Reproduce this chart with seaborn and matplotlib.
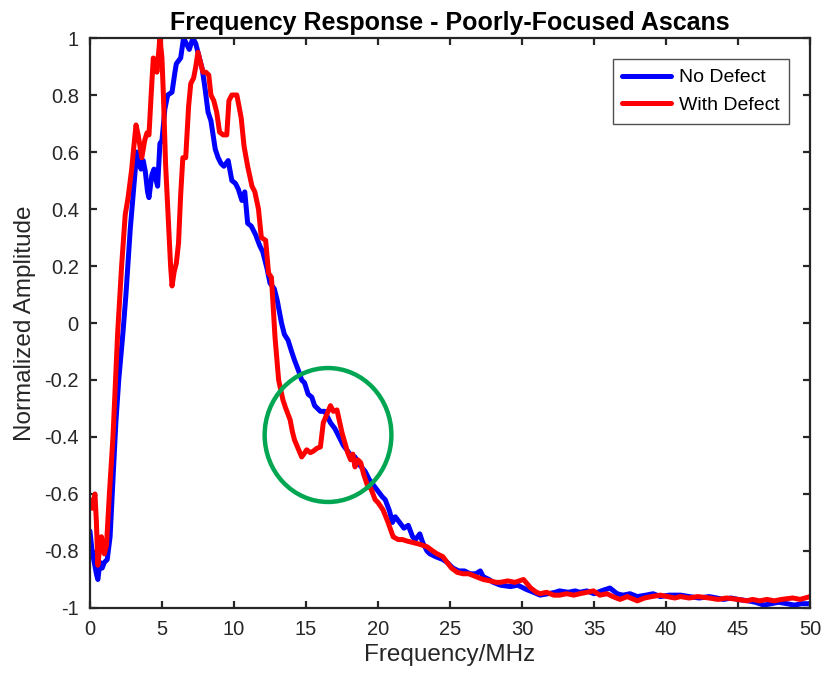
import numpy as np
import pandas as pd
import seaborn as sns
import matplotlib
matplotlib.use("Agg")
import matplotlib.pyplot as plt
from matplotlib.patches import Ellipse

# Normalized spectra of the two A-scans
freq_no_defect = [
    0.0, 0.15, 0.3, 0.45, 0.55, 0.7, 0.85, 1.0, 1.2, 1.4, 1.6, 1.8, 2.0, 2.3, 2.5, 2.8,
    3.0, 3.25, 3.4, 3.55, 3.7, 3.85, 4.0, 4.1, 4.3, 4.45, 4.6, 4.7, 4.86, 5.0, 5.2, 5.4,
    5.7, 5.9, 6.0, 6.3, 6.5, 6.7, 6.9, 7.15, 7.35, 7.6, 7.8, 8.0, 8.2, 8.4, 8.7, 8.9,
    9.1, 9.3, 9.6, 9.85, 10.1, 10.3, 10.55, 10.75, 10.95, 11.2, 11.5, 11.8, 12.0, 12.3,
    12.5, 12.8, 13.0, 13.3, 13.5, 13.75, 14.0, 14.2, 14.5, 14.7, 14.9, 15.15, 15.4, 15.6,
    15.8, 16.0, 16.3, 16.7, 17.0, 17.2, 17.6, 18.05, 18.4, 18.75, 19.1, 19.4, 19.7, 20.0,
    20.3, 20.5, 20.8, 21.0, 21.2, 21.5, 21.8, 22.1, 22.4, 22.6, 22.9, 23.1, 23.4, 23.6,
    24.0, 24.5, 24.8, 25.2, 25.6, 26.0, 26.4, 26.8, 27.1, 27.3, 27.7, 28.0, 28.5, 29.2,
    29.7, 30.3, 30.8, 31.25, 31.8, 32.3, 32.6, 33.2, 33.7, 34.0, 34.5, 35.0, 35.5, 36.1,
    36.6, 37.0, 37.5, 38.0, 38.6, 39.1, 39.6, 40.2, 41.0, 41.6, 42.3, 43.0, 43.5, 44.0,
    44.5, 45.0, 45.7, 46.2, 46.8, 47.3, 47.8, 48.4, 48.9, 49.4, 50.0,
]
amp_no_defect = [
    -0.73, -0.80, -0.84, -0.88, -0.90, -0.84, -0.86, -0.84, -0.83, -0.75, -0.55, -0.35,
    -0.20, -0.03, 0.10, 0.33, 0.45, 0.60, 0.56, 0.54, 0.57, 0.53, 0.46, 0.44, 0.52, 0.54,
    0.50, 0.48, 0.63, 0.64, 0.75, 0.80, 0.81, 0.88, 0.91, 0.93, 1.0, 0.98, 0.96, 1.0,
    0.98, 0.93, 0.89, 0.82, 0.74, 0.71, 0.61, 0.58, 0.56, 0.55, 0.57, 0.50, 0.49, 0.47,
    0.43, 0.46, 0.35, 0.34, 0.31, 0.27, 0.25, 0.19, 0.14, 0.12, 0.08, 0.0, -0.04, -0.06,
    -0.10, -0.13, -0.17, -0.20, -0.21, -0.25, -0.26, -0.29, -0.30, -0.31, -0.31, -0.35,
    -0.37, -0.39, -0.43, -0.46, -0.47, -0.50, -0.52, -0.55, -0.57, -0.59, -0.61, -0.62,
    -0.66, -0.70, -0.68, -0.70, -0.72, -0.71, -0.75, -0.76, -0.74, -0.77, -0.80, -0.81,
    -0.82, -0.83, -0.84, -0.86, -0.87, -0.87, -0.88, -0.88, -0.87, -0.89, -0.90, -0.91,
    -0.92, -0.925, -0.92, -0.935, -0.945, -0.955, -0.95, -0.945, -0.94, -0.945, -0.94,
    -0.945, -0.94, -0.95, -0.94, -0.93, -0.95, -0.955, -0.95, -0.96, -0.955, -0.95,
    -0.96, -0.955, -0.955, -0.96, -0.965, -0.96, -0.965, -0.97, -0.965, -0.97, -0.975,
    -0.98, -0.99, -0.985, -0.98, -0.985, -0.99, -0.985, -0.985,
]

freq_with_defect = [
    0.0, 0.15, 0.35, 0.45, 0.55, 0.7, 0.8, 0.9, 1.0, 1.15, 1.35, 1.6, 1.93, 2.2, 2.45,
    2.65, 2.9, 3.05, 3.2, 3.35, 3.6, 3.8, 3.96, 4.1, 4.25, 4.4, 4.55, 4.65, 4.86, 5.0,
    5.1, 5.25, 5.45, 5.6, 5.7, 5.85, 6.0, 6.15, 6.3, 6.45, 6.65, 6.85, 7.0, 7.2, 7.35,
    7.5, 7.7, 7.85, 8.05, 8.25, 8.4, 8.6, 8.8, 9.0, 9.25, 9.5, 9.65, 9.85, 10.2, 10.5,
    10.7, 10.95, 11.25, 11.45, 11.7, 11.9, 12.2, 12.4, 12.6, 12.85, 13.1, 13.4, 13.6,
    13.9, 14.05, 14.2, 14.45, 14.7, 14.85, 15.05, 15.3, 15.5, 15.75, 16.0, 16.2, 16.45,
    16.7, 16.9, 17.15, 17.5, 17.7, 17.9, 18.1, 18.25, 18.4, 18.6, 18.8, 19.0, 19.3, 19.5,
    19.8, 20.0, 20.35, 20.7, 21.05, 21.4, 21.7, 22.0, 22.4, 22.8, 23.1, 23.4, 23.8, 24.1,
    24.5, 24.8, 25.1, 25.5, 25.9, 26.3, 26.8, 27.3, 27.8, 28.2, 28.5, 29.0, 29.5, 30.1,
    30.6, 31.0, 31.25, 31.7, 32.2, 32.6, 33.1, 33.6, 34.0, 34.5, 34.95, 35.4, 35.9, 36.3,
    36.8, 37.3, 38.0, 38.5, 39.0, 39.6, 40.1, 40.6, 41.0, 41.6, 42.2, 43.0, 43.6, 44.2,
    45.0, 45.6, 46.0, 46.5, 47.0, 47.5, 48.0, 48.8, 49.3, 50.0,
]
amp_with_defect = [
    -0.62, -0.65, -0.60, -0.70, -0.85, -0.78, -0.75, -0.78, -0.81, -0.78, -0.60, -0.40,
    -0.03, 0.20, 0.38, 0.44, 0.54, 0.62, 0.695, 0.66, 0.58, 0.64, 0.667, 0.66, 0.80,
    0.93, 0.92, 0.88, 1.0, 0.93, 0.80, 0.56, 0.35, 0.20, 0.13, 0.18, 0.21, 0.28, 0.45,
    0.58, 0.58, 0.76, 0.84, 0.86, 0.90, 0.95, 0.91, 0.88, 0.88, 0.87, 0.80, 0.78, 0.74,
    0.67, 0.66, 0.66, 0.78, 0.80, 0.80, 0.72, 0.62, 0.55, 0.48, 0.46, 0.40, 0.30, 0.29,
    0.175, 0.16, -0.05, -0.20, -0.27, -0.30, -0.34, -0.38, -0.41, -0.44, -0.47, -0.46,
    -0.445, -0.455, -0.45, -0.44, -0.435, -0.35, -0.32, -0.29, -0.31, -0.305, -0.385,
    -0.42, -0.456, -0.48, -0.46, -0.505, -0.48, -0.49, -0.53, -0.575, -0.58, -0.62,
    -0.63, -0.656, -0.70, -0.75, -0.76, -0.76, -0.765, -0.77, -0.775, -0.78, -0.785,
    -0.80, -0.81, -0.82, -0.84, -0.86, -0.875, -0.88, -0.88, -0.89, -0.90, -0.905,
    -0.91, -0.91, -0.905, -0.91, -0.90, -0.93, -0.945, -0.95, -0.945, -0.955, -0.955,
    -0.95, -0.955, -0.95, -0.945, -0.94, -0.955, -0.95, -0.96, -0.97, -0.96, -0.975,
    -0.965, -0.96, -0.955, -0.96, -0.965, -0.96, -0.965, -0.96, -0.965, -0.97, -0.965,
    -0.97, -0.975, -0.97, -0.975, -0.97, -0.975, -0.97, -0.965, -0.97, -0.96,
]

series_names = ["No Defect", "With Defect"]
series_colors = ["#0000FF", "#FF0000"]
x_ticks = [0, 5, 10, 15, 20, 25, 30, 35, 40, 45, 50]
y_ticks = [-1, -0.8, -0.6, -0.4, -0.2, 0, 0.2, 0.4, 0.6, 0.8, 1]

# Region of interest marked on the plot (centre in MHz / amplitude, size in data units)
roi_center = (16.53, -0.393)
roi_size = (8.8, 0.47)

df = pd.concat([
    pd.DataFrame({"Frequency": freq_no_defect, "Amplitude": amp_no_defect, "Series": series_names[0]}),
    pd.DataFrame({"Frequency": freq_with_defect, "Amplitude": amp_with_defect, "Series": series_names[1]}),
], ignore_index=True)

sns.set_theme(style="ticks")
plt.rcParams["font.family"] = ["Liberation Sans", "DejaVu Sans"]

fig = plt.figure(figsize=(8.25, 6.79), dpi=100)
ax = fig.add_axes([0.109, 0.1046, 0.873, 0.8394])

sns.lineplot(data=df, x="Frequency", y="Amplitude", hue="Series",
             palette=dict(zip(series_names, series_colors)), hue_order=series_names,
             sort=False, estimator=None, linewidth=3.6, ax=ax)
for line in ax.get_lines():
    line.set_solid_joinstyle("round")
    line.set_solid_capstyle("round")

ax.add_patch(Ellipse(roi_center, roi_size[0], roi_size[1], fill=False,
                     edgecolor="#00A651", linewidth=3.2, zorder=5))

ax.set_xlim(0, 50)
ax.set_ylim(-1, 1)
ax.set_xticks(x_ticks)
ax.set_xticklabels([str(t) for t in x_ticks])
ax.set_yticks(y_ticks)
ax.set_yticklabels([f"{t:g}" for t in y_ticks])

axis_col = "#262626"
for sp in ax.spines.values():
    sp.set_visible(True)
    sp.set_color(axis_col)
    sp.set_linewidth(1.6)
ax.tick_params(direction="in", length=5, width=1.6, colors=axis_col,
               labelsize=14.5, top=True, right=True)
ax.tick_params(axis="y", pad=8)
ax.tick_params(axis="x", pad=9)
for lbl in ax.get_xticklabels() + ax.get_yticklabels():
    lbl.set_color(axis_col)

ax.set_xlabel("Frequency/MHz", fontsize=17.5, color=axis_col, labelpad=3)
ax.set_ylabel("Normalized Amplitude", fontsize=17.5, color=axis_col, labelpad=6)
ax.set_title("Frequency Response - Poorly-Focused Ascans", fontsize=18,
             fontweight="bold", color="black", pad=6)

leg = ax.legend(loc="upper right", bbox_to_anchor=(0.971, 0.963), fontsize=14,
                frameon=True, fancybox=False, handlelength=2.5, handletextpad=0.4,
                borderpad=0.5, labelspacing=0.5, borderaxespad=0.0)
leg.get_frame().set_edgecolor(axis_col)
leg.get_frame().set_linewidth(1.0)
for h in leg.get_lines():
    h.set_linewidth(3.6)
for t in leg.get_texts():
    t.set_color("black")

fig.savefig("out.png", dpi=100, facecolor="white")
